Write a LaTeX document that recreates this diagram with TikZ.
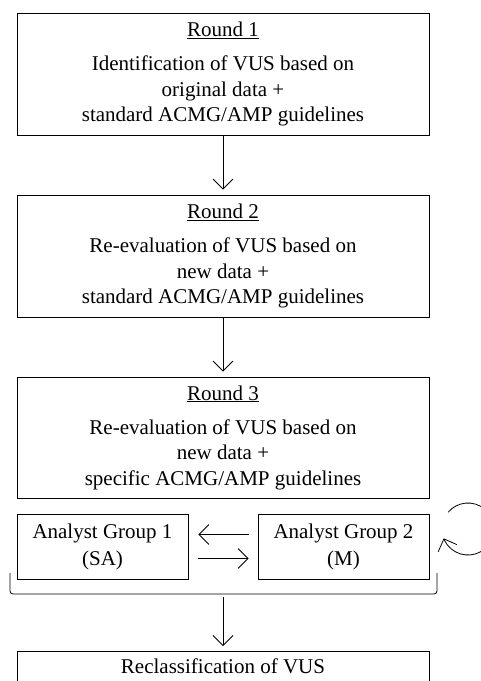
\documentclass[tikz,border=0pt]{standalone}
\usepackage{fontspec}
\setmainfont{Liberation Serif}
\usetikzlibrary{arrows.meta}
\begin{document}
\begin{tikzpicture}[x=1pt,y=-1pt,
  box/.style={draw, line width=0.8pt, align=center, inner sep=0pt, font=\fontsize{21}{25.5}\selectfont},
  roundbox/.style={box, minimum width=412pt, minimum height=122pt},
  grpbox/.style={box, minimum width=171pt, minimum height=65pt, font=\fontsize{21}{27}\selectfont},
  arr/.style={-{Straight Barb[length=10pt,width=20pt]}, line width=0.8pt},
  bracket/.style={line width=0.8pt, rounded corners=3pt}]
\useasboundingbox (0,0) rectangle (481,681);

\node[roundbox] (r1) at (223,74) {\underline{Round 1}\\[8.5pt]Identification of VUS based on\\original data +\\standard ACMG/AMP guidelines};
\node[roundbox] (r2) at (223,256) {\underline{Round 2}\\[8.5pt]Re-evaluation of VUS based on\\new data +\\standard ACMG/AMP guidelines};
\node[roundbox, minimum height=121pt] (r3) at (223,437.5) {\underline{Round 3}\\[8.5pt]Re-evaluation of VUS based on\\new data +\\specific ACMG/AMP guidelines};

\node[grpbox] (g1) at (102.5,546.5) {Analyst Group 1\\(SA)};
\node[grpbox] (g2) at (343.5,546.5) {Analyst Group 2\\(M)};

\node[box, minimum width=412pt, anchor=north, text height=14pt, text depth=40pt, inner ysep=8pt] (rc) at (223,651) {Reclassification of VUS};

\draw[arr, shorten >=5pt] (r1) -- (r2);
\draw[arr, shorten >=5pt] (r2) -- (r3);

\draw[arr] ([xshift=-9pt,yshift=12pt]g2.west) -- ([xshift=10pt,yshift=12pt]g1.east);
\draw[arr] ([xshift=10pt,yshift=-12pt]g1.east) -- ([xshift=-9pt,yshift=-12pt]g2.west);

\coordinate (lc) at (468,529);
\draw[arr] ([shift={(220:26)}]lc) arc[start angle=220, end angle=519, radius=26];

\draw[bracket] (10,573) -- (10,594) -- (437,594) -- (437,573);
\coordinate (bk) at (223,597);
\draw[arr, shorten >=5pt] (bk) -- (rc);
\end{tikzpicture}
\end{document}
